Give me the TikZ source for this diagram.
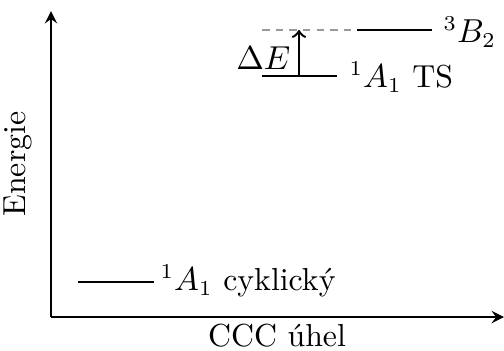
\documentclass[tikz,border=0pt]{standalone}
\usetikzlibrary{arrows}
\begin{document}
\begin{tikzpicture}[x=0.33pt,y=-0.33pt,
  font=\fontsize{10.5}{12.6}\selectfont,
  axis/.style={thick,-stealth},
  level/.style={thick},
  lbl/.style={inner sep=0pt,anchor=west}]
\useasboundingbox (0,0) rectangle (504,350);
% axes
\coordinate (O) at (51,317);
\coordinate (Ytop) at (51,11);
\coordinate (Xend) at (504,317);
\draw[axis] (O) -- (Ytop);
\draw[axis] (O) -- (Xend);
\node[rotate=90] (ylab) at (18,164) {Energie};
\node (xlab) at (277,336) {CCC úhel};
% cyclic level
\coordinate (c1) at (78,282);
\coordinate (c2) at (154,282);
\draw[level] (c1) -- (c2);
\node[lbl] (clab) at (160,281) {$^1A_1$ cyklický};
% TS level
\coordinate (t1) at (262,76);
\coordinate (t2) at (337,76);
\draw[level] (t1) -- (t2);
\node[lbl] (tlab) at (349,77) {$^1A_1$ TS};
% triplet level
\coordinate (b1) at (357,30);
\coordinate (b2) at (432,30);
\draw[level] (b1) -- (b2);
\node[lbl] (blab) at (443,32) {$^3B_2$};
% dashed reference
\coordinate (d1) at (262,30);
\draw[thick,gray!80,dash pattern=on 2.5pt off 2pt] (d1) -- (b1);
% Delta E arrow
\coordinate (a1) at (299,76);
\coordinate (a2) at (299,30);
\draw[thick,->] (a1) -- (a2);
\node[anchor=east,inner sep=1pt] (de) at (294,58) {$\Delta E$};
\end{tikzpicture}
\end{document}
